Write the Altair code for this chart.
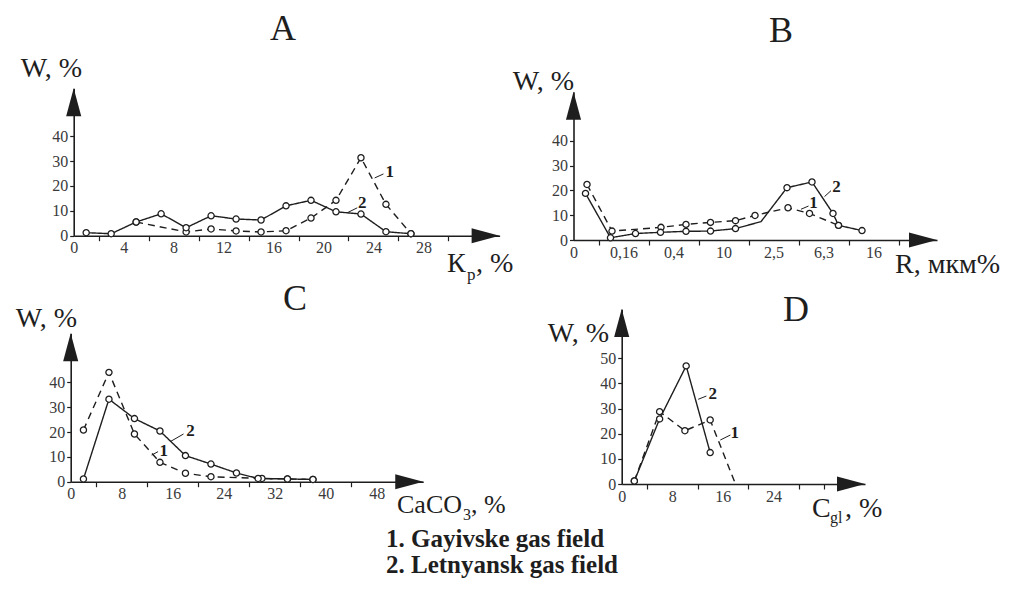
import json
import altair as alt
import pandas as pd

FONT = "Liberation Serif"
INK = "#1e1e1e"
LAB = "#3a3a3a"
W, H = 992, 571
M = 8  # page margin: layout numbers below are page pixels

# ---------------- data ----------------
# A  (K_p, %)
a_x2 = [1, 3, 5, 7, 9, 11, 13, 15, 17, 19, 21, 23, 25, 27]
a_w2 = [1.2, 0.8, 5.5, 8.8, 3.2, 8.0, 6.7, 6.3, 12.0, 14.2, 9.6, 8.7, 1.6, 0.8]
a_x1 = [5, 9, 11, 13, 15, 17, 19, 21, 23, 25, 27]
a_w1 = [5.5, 1.5, 2.7, 1.9, 1.5, 2.0, 7.1, 14.2, 31.3, 12.6, 0.8]
a_ticks = ["0", "4", "8", "12", "16", "20", "24", "28"]

# B  (R, mkm) - positions are class index along the axis
b_x2 = [0.24, 0.74, 1.24, 1.74, 2.25, 2.74, 3.24, 3.75, 4.27, 4.77, 5.19, 5.3, 5.77]
b_w2 = [18.8, 0.9, 2.6, 3.1, 3.5, 3.6, 4.6, 7.4, 21.1, 23.4, 10.7, 5.9, 3.8]
b_m2 = [1, 1, 1, 1, 1, 1, 1, 0, 1, 1, 1, 1, 1]
b_x1 = [0.27, 0.77, 1.75, 2.25, 2.74, 3.24, 3.63, 4.29, 4.72, 5.3]
b_w1 = [22.4, 3.6, 5.1, 6.3, 7.1, 7.8, 9.9, 13.0, 10.7, 5.9]
b_ticks = ["0", "0,16", "0,4", "10", "2,5", "6,3", "16"]

# C  (CaCO3, %)
c_x2 = [2, 6, 10, 14, 18, 22, 26, 29.4, 34, 38]
c_w2 = [1.1, 33.2, 25.4, 20.4, 10.5, 7.1, 3.5, 1.3, 1.1, 0.9]
c_x1 = [2, 6, 10, 14, 18, 22, 30, 34, 38]
c_w1 = [20.8, 44.0, 19.2, 7.8, 3.4, 2.0, 1.3, 1.1, 0.9]
c_ticks = ["0", "8", "16", "24", "32", "40", "48"]

# D  (C_gl, %)
d_x2 = [2, 6, 10.2, 14]
d_w2 = [1.2, 25.9, 47.0, 12.5]
d_x1 = [2, 6, 10, 14, 18]
d_w1 = [1.2, 28.8, 21.2, 25.5, 0.0]
d_m1 = [1, 1, 1, 1, 0]
d_ticks = ["0", "8", "16", "24"]

titles = ["A", "B", "C", "D"]
legend_lines = ["1. Gayivske gas field", "2. Letnyansk gas field"]


def series(xs, ys, marks=None):
    if marks is None:
        marks = [1] * len(xs)
    return pd.DataFrame({"x": xs, "y": ys, "m": marks})


def label_expr(labels, step):
    cond = f"(datum.value % {step} == 0 && datum.value / {step} < {len(labels)})"
    return cond, f"{cond} ? {json.dumps(labels)}[datum.value / {step}] : ''"


UP = "M0,0L-0.27,1L0.27,1Z"
RIGHT = "M0,0L-1,-0.27L-1,0.27Z"
ARROW_SIZE = 3136

AXIS_STYLE = dict(
    grid=False, domainColor=INK, domainWidth=1.6, tickColor=INK, tickWidth=1.2,
    labelFont=FONT, labelFontSize=16, labelColor=LAB, labelFlush=False,
    labelOverlap=False, title=None,
)


def panel(cfg):
    x0, y0 = cfg["x0"] - M, cfg["y0"] - M
    xsc = alt.Scale(domain=[0, cfg["xmax"]], range=[x0, x0 + cfg["xmax"] * cfg["kx"]],
                    nice=False, zero=False)
    ysc = alt.Scale(domain=[0, cfg["ymax"]], range=[y0, y0 - cfg["ymax"] * cfg["ky"]],
                    nice=False, zero=False)
    cond, lexpr = label_expr(cfg["ticks"], cfg["step"])
    xax = alt.Axis(orient="bottom", offset=y0 - H, values=cfg["xvalues"], labelExpr=lexpr,
                   tickSize=5, labelPadding=-1,
                   tickOpacity={"condition": {"test": cond, "value": 0}, "value": 1},
                   **AXIS_STYLE)
    yax = alt.Axis(orient="left", offset=-x0, values=cfg["yvalues"], tickSize=4,
                   labelPadding=2, **AXIS_STYLE)
    X = alt.X("x:Q", scale=xsc, axis=xax)
    Y = alt.Y("y:Q", scale=ysc, axis=yax)

    layers = []
    for df, dash in ((cfg["s1"], [7, 5]), (cfg["s2"], [1, 0])):
        layers.append(alt.Chart(df).mark_line(color=INK, strokeWidth=1.4, strokeDash=dash)
                      .encode(x=X, y=Y))
    for df in (cfg["s1"], cfg["s2"]):
        layers.append(alt.Chart(df).transform_filter("datum.m == 1")
                      .mark_point(shape="circle", size=38, filled=True, fill="white",
                                  stroke=INK, strokeWidth=1.3, opacity=1)
                      .encode(x=X, y=Y))
    lead = pd.DataFrame(cfg["leaders"], columns=["x", "y", "x2", "y2"])
    layers.append(alt.Chart(lead).mark_rule(color=INK, strokeWidth=1)
                  .encode(x=X, y=Y, x2="x2:Q", y2="y2:Q"))
    labs = pd.DataFrame(cfg["labels"], columns=["x", "y", "t"])
    layers.append(alt.Chart(labs).mark_text(font=FONT, fontSize=17, fontWeight="bold",
                                            color=INK, align="center", baseline="middle")
                  .encode(x=X, y=Y, text="t:N"))
    ends = pd.DataFrame({"x": [cfg["xmax"]], "y": [0]})
    tops = pd.DataFrame({"x": [0], "y": [cfg["ymax"]]})
    layers.append(alt.Chart(ends).mark_point(shape=RIGHT, size=ARROW_SIZE, filled=True,
                                             color=INK, opacity=1, strokeWidth=0)
                  .encode(x=X, y=Y))
    layers.append(alt.Chart(tops).mark_point(shape=UP, size=ARROW_SIZE, filled=True,
                                             color=INK, opacity=1, strokeWidth=0)
                  .encode(x=X, y=Y))
    return alt.layer(*layers)


cfgA = dict(x0=73.7, y0=235.7, kx=12.49, ky=2.49, xmax=34.1, ymax=59.2,
            ticks=a_ticks, step=4, xvalues=list(range(0, 31, 2)), yvalues=[0, 10, 20, 30, 40],
            s1=series(a_x1, a_w1), s2=series(a_x2, a_w2),
            leaders=[[24.1, 23.2, 24.8, 24.8], [21.9, 9.2, 22.7, 11.2]],
            labels=[[25.3, 25.6, "1"], [23.1, 13.0, "2"]])
cfgB = dict(x0=573.5, y0=240.0, kx=50.0, ky=2.48, xmax=7.27, ymax=59.8,
            ticks=b_ticks, step=1, xvalues=[i * 0.5 for i in range(14)],
            yvalues=[0, 10, 20, 30, 40],
            s1=series(b_x1, b_w1), s2=series(b_x2, b_w2, b_m2),
            leaders=[[5.02, 17.5, 5.15, 19.9], [4.55, 12.4, 4.7, 13.7]],
            labels=[[5.26, 21.5, "2"], [4.8, 14.8, "1"]])
cfgC = dict(x0=70.7, y0=481.7, kx=6.375, ky=2.485, xmax=55.3, ymax=59.7,
            ticks=c_ticks, step=8, xvalues=list(range(0, 49, 4)), yvalues=[0, 10, 20, 30, 40],
            s1=series(c_x1, c_w1), s2=series(c_x2, c_w2),
            leaders=[[15.6, 16.1, 17.7, 19.2], [12.7, 10.7, 13.7, 12.1]],
            labels=[[18.8, 20.6, "2"], [14.6, 12.2, "1"]])
cfgD = dict(x0=621.7, y0=484.0, kx=6.32, ky=2.513, xmax=38.5, ymax=69.6,
            ticks=d_ticks, step=8, xvalues=list(range(0, 33, 4)),
            yvalues=[0, 10, 20, 30, 40, 50],
            s1=series(d_x1, d_w1, d_m1), s2=series(d_x2, d_w2),
            leaders=[[12.1, 33.7, 13.4, 35.0], [15.6, 17.5, 17.2, 19.5]],
            labels=[[14.4, 35.7, "2"], [17.9, 20.4, "1"]])


def txt(t, px, py, size, align="left", weight="normal", color=INK):
    return alt.Chart(pd.DataFrame({"t": [t]})).mark_text(
        font=FONT, fontSize=size, fontWeight=weight, align=align, baseline="alphabetic",
        color=color).encode(x=alt.value(px - M), y=alt.value(py - M), text="t:N")


texts = [
    txt(titles[0], 283, 40, 36, "center"),
    txt(titles[1], 781, 42, 36, "center"),
    txt(titles[2], 295, 310, 36, "center"),
    txt(titles[3], 796, 321, 36, "center"),
    txt("W, %", 82, 77, 28, "right"),
    txt("W, %", 574, 90, 28, "right"),
    txt("W, %", 77, 327, 28, "right"),
    txt("W, %", 609, 342, 28, "right"),
    txt("К", 447, 272, 28),
    txt("р", 467, 280, 17),
    txt(", %", 476, 272, 28),
    txt("R, мкм%", 895, 273, 28),
    txt("CaCO", 397, 513, 26),
    txt("3", 463, 520, 16),
    txt(", %", 471, 513, 26),
    txt("C", 812, 517, 28),
    txt("gl", 830, 523, 16),
    txt(", %", 845, 517, 28),
    txt(legend_lines[0], 386, 547, 25, weight="bold"),
    txt(legend_lines[1], 386, 573, 25, weight="bold"),
]

chart = alt.layer(
    panel(cfgA), panel(cfgB), panel(cfgC), panel(cfgD), *texts
).resolve_scale(x="independent", y="independent").resolve_axis(
    x="independent", y="independent"
).properties(
    width=W, height=H, padding=0, autosize=alt.AutoSizeParams(type="none")
).configure_view(strokeWidth=0)

chart.save("out.html", embed_options={"renderer": "svg", "actions": False})
